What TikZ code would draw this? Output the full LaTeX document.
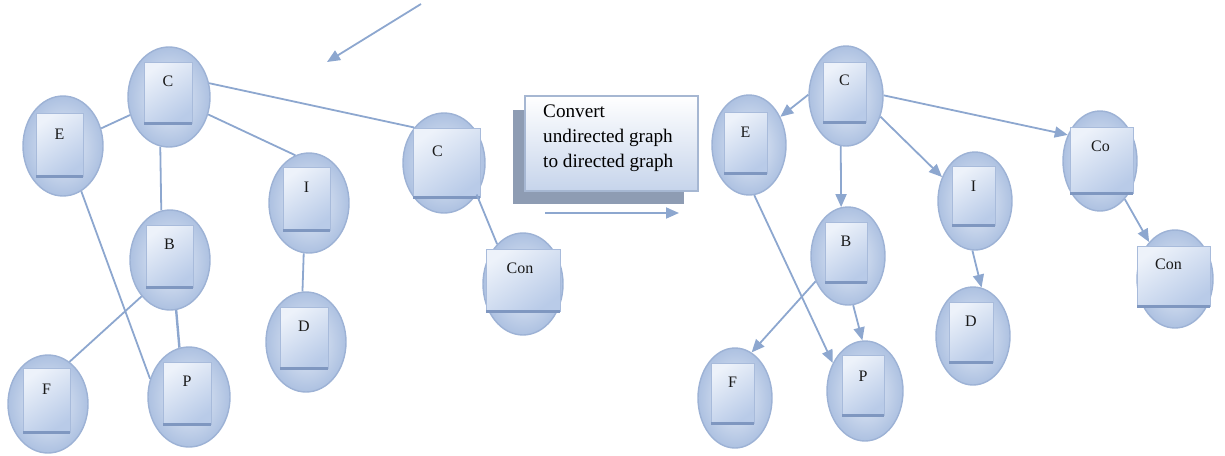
\documentclass[tikz,border=0pt]{standalone}
\usepackage{fontspec}
\setmainfont{Liberation Serif}
\usetikzlibrary{shapes.geometric,arrows.meta,calc}

\definecolor{bubrim}{HTML}{9DB2D5}
\definecolor{bubin}{HTML}{E8EEF8}
\definecolor{bubout}{HTML}{ADC1E1}
\definecolor{cardtop}{HTML}{EDF2FA}
\definecolor{cardbot}{HTML}{B9CBE8}
\definecolor{cardline}{HTML}{A8BBDB}
\definecolor{cardbase}{HTML}{7F97C0}
\definecolor{edgeblue}{HTML}{8DA7CF}
\definecolor{shadowgray}{HTML}{8E9CB3}
\definecolor{panelrim}{HTML}{A6B7D2}
\definecolor{panelbot}{HTML}{C6D4EB}

\tikzset{
  bub/.style={ellipse, draw=bubrim, line width=1.4pt, inner sep=0pt,
              inner color=bubin, outer color=bubout},
  card/.style={rectangle, draw=cardline, line width=0.8pt, inner sep=0pt,
               top color=cardtop, bottom color=cardbot, shading angle=35},
  cardrim/.style={draw=cardbase, line width=2.6pt},
  lab/.style={font=\fontsize{16}{18}\selectfont, text=black!90, inner sep=0pt},
  link/.style={draw=edgeblue, line width=1.8pt},
  dlink/.style={link, -{Triangle[length=13pt,width=11pt]}},
  panel/.style={rectangle, draw=panelrim, line width=1.4pt, inner sep=0pt,
                top color=white, bottom color=panelbot},
  panelshadow/.style={rectangle, fill=shadowgray, inner sep=0pt},
  paneltext/.style={font=\fontsize{19.2}{25}\selectfont, align=left, inner sep=0pt, anchor=north west}
}

% #1 name, #2 bubble centre, #3/#4 bubble width/height,
% #5 card centre, #6/#7 card width/height, #8 label, #9 label offset from card top
\newcommand\gnode[9]{%
  \node[bub, minimum width=#3, minimum height=#4] (#1) at (#2) {};
  \node[card, minimum width=#6, minimum height=#7] (#1-card) at (#5) {};
  \draw[cardrim] ($(#1-card.south west)+(0.6,0)$) -- ($(#1-card.south east)+(-0.6,0)$);
  \node[lab] (#1-lab) at ($(#1-card.north)+#9$) {#8};
}

\begin{document}
\begin{tikzpicture}[x=1pt, y=-1pt]
\useasboundingbox (0,0) rectangle (1225,455);

% ---- undirected graph ----
\gnode{lC}{169,97}{82}{100}{168,92.5}{48}{61}{C}{(0,20)}
\gnode{lE}{63,146}{80}{100}{59.5,144.5}{47}{63}{E}{(0,22)}
\gnode{lI}{309,203}{80}{100}{306.5,198.5}{47}{63}{I}{(0,21)}
\gnode{lB}{170,260}{80}{100}{169.5,256}{47}{62}{B}{(0,20)}
\gnode{lF}{48,404}{80}{98}{46.5,400}{47}{64}{F}{(0,22)}
\gnode{lP}{189,397}{82}{100}{187,393}{48}{62}{P}{(0,20)}
\gnode{lD}{306,342}{80}{100}{304,337.5}{48}{61}{D}{(0,20)}
\gnode{lCo}{444,163}{82}{100}{446.5,162.5}{67}{69}{C}{(-9,24)}
\gnode{lCon}{523,284}{80}{102}{523,280}{74}{62}{Con}{(-3,20)}

\draw[link] (lC) -- (lE);
\draw[link] (lC.-100) -- (lB.100);
\draw[link] (lC.-24) -- (lI.106);
\draw[link] (lC.19) -- (lCo.130);
\draw[link] (lCo.-44) -- (lCon.123);
\draw[link] (lI.-96) -- (lD.94);
\draw[link, line width=2.4pt] (lB.-83) -- (lP.101);
\draw[link] (lB.-128) -- (lF.63);
\draw[link] (lE.-68) -- (lP.155);

% ---- conversion panel ----
\node[panelshadow, minimum width=171, minimum height=94] (shadow) at (598.5,157) {};
\node[panel, minimum width=173, minimum height=95] (panel) at (611.5,143.5) {};
\node[paneltext] (ptext) at (543,105) {Convert\\undirected graph\\to directed graph};
\coordinate (convA) at (545,213);
\coordinate (convB) at (679,213);
\draw[dlink] (convA) -- (convB);

\coordinate (topA) at (421,4);
\coordinate (topB) at (327,62);
\draw[dlink] (topA) -- (topB);

% ---- directed graph ----
\gnode{rC}{846,96}{74}{100}{844.5,92}{43}{60}{C}{(0,19)}
\gnode{rE}{749,145}{74}{100}{745.5,142.5}{43}{61}{E}{(0,21)}
\gnode{rI}{975,201}{74}{98}{973.5,195.5}{43}{59}{I}{(0,21)}
\gnode{rCo}{1100,161}{74}{100}{1101.5,160}{63}{66}{Co}{(-1,20)}
\gnode{rB}{848,256}{74}{98}{846,252}{42}{60}{B}{(0,20)}
\gnode{rF}{735,398}{74}{100}{732.5,393}{43}{60}{F}{(0,20)}
\gnode{rP}{865,391}{76}{100}{863,385}{42}{60}{P}{(0,22)}
\gnode{rD}{973,336}{74}{98}{971,332}{44}{60}{D}{(0,20)}
\gnode{rCon}{1175,279}{76}{98}{1173.5,276}{73}{60}{Con}{(-5,19)}

\draw[dlink] (rC.178) -- (rE.42);
\draw[dlink] (rC.-96) -- (rB.98);
\draw[dlink] (rC.-31) -- (rI.144);
\draw[dlink] (rC.1) -- (rCo.141);
\draw[dlink] (rCo.-57) -- (rCon.125);
\draw[dlink] (rI.-93) -- (rD.80);
\draw[dlink] (rB.-84) -- (rP.93);
\draw[dlink] (rB.-142) -- (rF.70);
\draw[dlink] (rE.-84) -- (rP.139);
\end{tikzpicture}
\end{document}
